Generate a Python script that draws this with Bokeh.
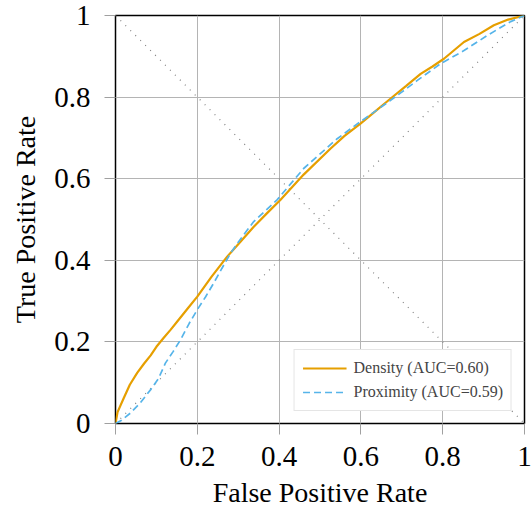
from bokeh.plotting import figure
from bokeh.models import FixedTicker, Legend, LegendItem
from bokeh.embed import file_html
from bokeh.resources import INLINE

# Density ROC
density_fpr = [0.0, 0.005, 0.02, 0.035, 0.053, 0.07, 0.086, 0.10, 0.118, 0.135, 0.151, 0.175, 0.2, 0.235,
               0.273, 0.305, 0.338, 0.37, 0.403, 0.46, 0.526, 0.56, 0.599, 0.635, 0.672, 0.71, 0.746,
               0.775, 0.803, 0.852, 0.89, 0.925, 0.96, 1.0]
density_tpr = [0.0, 0.028, 0.062, 0.095, 0.124, 0.147, 0.167, 0.188, 0.21, 0.23, 0.25, 0.28, 0.311, 0.36,
               0.409, 0.445, 0.482, 0.515, 0.548, 0.61, 0.674, 0.705, 0.735, 0.765, 0.796, 0.827, 0.857,
               0.875, 0.894, 0.935, 0.955, 0.976, 0.99, 1.0]

# Proximity ROC
prox_fpr = [0.0, 0.015, 0.037, 0.06, 0.086, 0.105, 0.122, 0.14, 0.159, 0.18, 0.2, 0.22, 0.24, 0.26,
            0.281, 0.31, 0.338, 0.365, 0.395, 0.46, 0.542, 0.599, 0.67, 0.738, 0.795, 0.852, 0.909,
            0.966, 1.0]
prox_tpr = [0.0, 0.008, 0.026, 0.05, 0.083, 0.11, 0.148, 0.175, 0.205, 0.245, 0.279, 0.31, 0.344, 0.38,
            0.417, 0.458, 0.495, 0.52, 0.548, 0.625, 0.698, 0.74, 0.79, 0.841, 0.882, 0.914, 0.951,
            0.985, 1.0]

ticks = [0, 0.2, 0.4, 0.6, 0.8, 1.0]
tick_labels = {0: "0", 0.2: "0.2", 0.4: "0.4", 0.6: "0.6", 0.8: "0.8", 1: "1"}

labels = ["Density (AUC=0.60)", "Proximity (AUC=0.59)"]

FONT = "Liberation Serif"

p = figure(width=532, height=510, x_range=(0, 1), y_range=(0, 1),
           output_backend="svg", toolbar_location=None,
           min_border_left=115, min_border_right=8, min_border_top=15, min_border_bottom=86)

p.outline_line_color = "black"
p.outline_line_width = 1.5
p.background_fill_color = "white"
p.border_fill_color = "white"

for ax in (p.xaxis[0], p.yaxis[0]):
    ax.ticker = FixedTicker(ticks=ticks)
    ax.major_label_overrides = tick_labels
    ax.major_label_text_font = FONT
    ax.major_label_text_font_size = "29px"
    ax.major_label_text_color = "black"
    ax.axis_label_text_font = FONT
    ax.axis_label_text_font_size = "28px"
    ax.axis_label_text_font_style = "normal"
    ax.axis_label_text_color = "black"
    ax.axis_line_color = None
    ax.major_tick_line_color = "#a0a0a0"
    ax.major_tick_out = 11
    ax.major_tick_in = 0
    ax.minor_tick_line_color = None

p.xaxis.axis_label = "False Positive Rate"
p.yaxis.axis_label = "True Positive Rate"
p.xaxis.major_label_standoff = 12
p.yaxis.major_label_standoff = 14
p.xaxis.axis_label_standoff = 8
p.yaxis.axis_label_standoff = 10

p.grid.grid_line_color = "#b4b4b4"
p.grid.grid_line_width = 1

# chance diagonals
p.line([0, 1], [0, 1], line_color="#808080", line_dash="1 6", line_width=1.2)
p.line([0, 1], [1, 0], line_color="#808080", line_dash="1 6", line_width=1.2)

r1 = p.line(density_fpr, density_tpr, line_color="#E69F00", line_width=2.2)
r2 = p.line(prox_fpr, prox_tpr, line_color="#56B4E9", line_width=1.7, line_dash="7 4")

legend = Legend(items=[LegendItem(label=labels[0], renderers=[r1]),
                       LegendItem(label=labels[1], renderers=[r2])],
                location="bottom_right")
legend.label_text_font = FONT
legend.label_text_font_size = "16px"
legend.border_line_color = "#cccccc"
legend.border_line_width = 1
legend.background_fill_alpha = 1
legend.glyph_width = 44
legend.glyph_height = 20
legend.label_standoff = 7
legend.label_height = 20
legend.spacing = 4
legend.padding = 8
legend.margin = 12
p.add_layout(legend, "center")

open("out.html", "w").write(file_html(p, INLINE))
